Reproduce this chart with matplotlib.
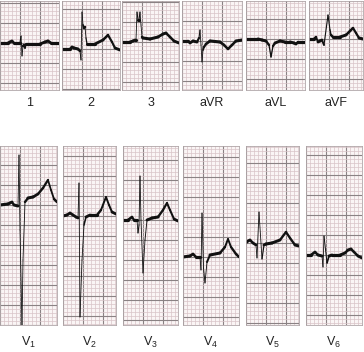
import numpy as np, matplotlib
matplotlib.use('Agg'); import matplotlib.pyplot as plt
from matplotlib.collections import LineCollection

plt.rcParams.update({'font.family':'Liberation Sans','mathtext.fontset':'custom',
                     'mathtext.rm':'Liberation Sans','mathtext.it':'Liberation Sans'})
PINK="#d8c4c8"; GRAYG="#8a8284"; BG="#faf5f5"; INK="#111111"
W,H = 364,352

# lead names and traces: time (mm of paper), amplitude (mm above baseline)
names = ["1","2","3","aVR","aVL","aVF","V$_1$","V$_2$","V$_3$","V$_4$","V$_5$","V$_6$"]

t_1 = [0,2,2.5,3,3.5,5,5.25,5.5,5.75,6,6.25,6.5,10,11.25,12,12.75,14.75]
v_1 = [0,0,0.25,0.5,0,0,1.75,-3.25,-0.75,-0.5,-1.25,-0.25,-0.25,0.25,0.5,0,0]
t_2 = [0,2,2.5,3,4,4.5,4.75,5,5.25,5.5,5.75,6,6.25,8.25,10.25,11.5,12.5,13.25,14.5]
v_2 = [0,0,0.5,0.25,0,-0.5,-2.75,9.25,6,5.25,5.5,2.75,1.25,1.25,2.25,3.5,1.75,0.25,-0.25]
t_3 = [0,2,2.75,3.25,3.5,3.75,4,4.25,4.5,4.75,5,5.25,7,9,10.25,11,12,13,14.25]
v_3 = [0,0,0.25,0.5,0.5,7.5,5.5,5.5,7.5,4.25,1.25,1,0.75,1.25,2,2.25,1.25,0.25,-0.25]
t_avr = [0,1.5,2,2.75,3.75,4.25,4.5,4.75,5,5.25,5.5,6,7,9.5,10.5,11.5,12.5,13.5,15]
v_avr = [0,0,-0.5,0,-0.25,0.75,2.75,-1,-5.25,-2.25,-1.5,-0.75,0,-0.25,-1,-2,-1,0,0.25]
t_avl = [0,3,4,5,5.75,6.25,6.75,7.25,8.5,9.75,11,12,12.5,13,14.75]
v_avl = [0,0,-0.25,-0.5,-1.5,-4.5,-1.75,-1,-0.5,-0.75,-0.75,-1,-1.25,-0.75,-0.75]
t_avf = [0,1.25,1.75,2.25,2.75,3.25,3.75,4.75,5.25,5.5,6,7.75,9.25,10.25,11,11.75,12.5,13.5]
v_avf = [0,0,0.5,-0.75,-0.5,-0.25,-1.5,6,2.25,1,0.5,0.5,1,2,2.75,1.5,0.25,0]
t_v1 = [0,2,2.5,3,3.5,4.5,4.75,5,5.5,5.75,6.25,7,8.25,9.5,10.75,12,12.75,13.5,14.25]
v_v1 = [0,0.25,0.5,0.75,0,-0.25,12.5,-6.25,-30.25,-13.75,0.75,1.75,2,2.75,4.25,6.25,3.75,1.5,0.75]
t_v2 = [0,1,1.75,2.5,3.25,3.75,4,4.25,4.75,5.25,5.75,6.75,8.5,9.5,10.75,11.5,12.25,13.25]
v_v2 = [0,0.25,0.75,0.25,-0.25,-0.5,8.25,-25.25,-11,-2.25,-0.25,0.25,0.25,1.5,4.75,2.75,1,0.5]
t_v3 = [0,1.25,2.25,2.75,3.5,3.75,4,4.25,4.5,5,5.5,6,7.25,8.75,10,11,11.75,12.75,13.75]
v_v3 = [0,0,0.75,0,0,-3.25,-1.25,11,0,-13.25,-5,0,0.5,0.75,2.5,4.25,2.5,0.25,-0.25]
t_v4 = [0,1.75,2.5,3.25,4.25,4.5,4.75,5.125,5.5,6,6.75,9.25,10.5,11.25,12,13.25,14]
v_v4 = [0,0.25,0.75,0,0,-3.25,11,-2.75,-6.5,-1.25,0.5,1,2.5,4.5,2.5,0.75,0]
t_v5 = [0,0.5,1,1.75,2.5,2.75,3.25,4,4.5,5,6.5,8.5,10,11,12.25,13.25]
v_v5 = [0,0.5,0.75,0,-0.5,-3.75,7.75,-4,-0.5,-0.25,0,0.75,2.75,1.25,-0.5,-0.75]
t_v6 = [0,1.25,2.25,3,4,4.25,4.5,5.25,5.75,6.5,8.5,9.75,10.5,11.25,12,13,14]
v_v6 = [0,0,0.75,0,-0.25,-3,4.75,-2,-0.25,0,0,0.5,1.25,1.5,0.75,-0.25,-0.75]

traces = [(t_1,v_1),(t_2,v_2),(t_3,v_3),(t_avr,v_avr),(t_avl,v_avl),(t_avf,v_avf),
          (t_v1,v_v1),(t_v2,v_v2),(t_v3,v_v3),(t_v4,v_v4),(t_v5,v_v5),(t_v6,v_v6)]

# panel boxes in pixels: left, top, right, bottom, baseline
boxes = [(0,1,59,90,43),(62,1,120,90,49),(122,1,179,90,42),(182,1,242,90,41),(246,1,305,90,39),(309,1,363,90,39),
         (0,146,57,325,205),(63,146,116,325,216),(123,146,178,325,220),(183,146,239,325,257),(246,146,299,325,243),(306,146,362,325,255)]

fig = plt.figure(figsize=(W/100,H/100), dpi=100)
for (name,(t,v),(l,tp,r,b,base)) in zip(names,traces,boxes):
    ax = fig.add_axes([l/W, 1-b/H, (r-l)/W, (b-tp)/H])
    w = (r-l)/4; lo = -(b-base)/4; hi = (base-tp)/4
    ax.set_xlim(0,w); ax.set_ylim(lo,hi)
    ax.set_facecolor(BG)
    ax.set_xticks(np.arange(0,w+0.01,5)); ax.set_xticks(np.arange(0,w,1),minor=True)
    ax.set_yticks(np.arange(np.ceil(lo/5)*5,hi,5)); ax.set_yticks(np.arange(np.ceil(lo),hi,1),minor=True)
    ax.grid(which='minor',color=PINK,lw=0.5); ax.grid(which='major',color=GRAYG,lw=0.8)
    ax.tick_params(which='both',length=0,labelbottom=False,labelleft=False)
    for s in ax.spines.values(): s.set_color("#b0a6a8"); s.set_linewidth(0.6)
    t = np.array(t); v = np.array(v)
    pts = np.column_stack([t,v]).reshape(-1,1,2)
    segs = np.concatenate([pts[:-1],pts[1:]],axis=1)
    slope = np.abs(np.diff(v)/np.diff(t))
    lws = np.clip(2.3/(1+0.25*slope),0.6,2.3)
    ax.add_collection(LineCollection(segs,linewidths=lws,colors=INK,capstyle='round',joinstyle='round'))
    fig.text((l+r)/2/W, 1-(103 if b<100 else 342)/H, name, ha='center', va='center', fontsize=9, color='#222222')

fig.savefig("out.png", dpi=100)
